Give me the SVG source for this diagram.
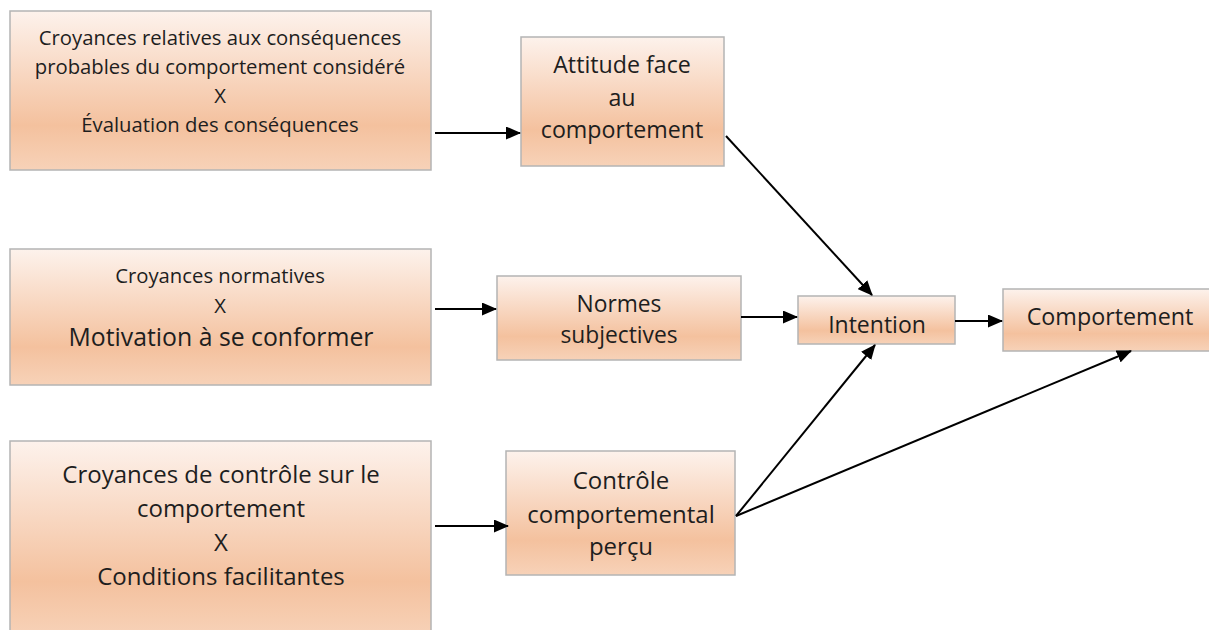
<svg xmlns="http://www.w3.org/2000/svg" width="1209" height="630" viewBox="0 0 1209 630">
<defs>
<linearGradient id="g" x1="0" y1="0" x2="0" y2="1">
<stop offset="0" stop-color="#fdf2ec"/>
<stop offset="0.72" stop-color="#f4c19e"/>
<stop offset="1" stop-color="#f7d2b8"/>
</linearGradient>
<marker id="ah" markerWidth="15" markerHeight="13" refX="14" refY="6.5" orient="auto" markerUnits="userSpaceOnUse" viewBox="0 0 15 13">
<path d="M0,0 L15,6.5 L0,13 z" fill="#000"/>
</marker>
<style>
.box{fill:url(#g);stroke:#b4b4b4;stroke-width:1.5}
text{font-family:"Open Sans","Noto Sans",sans-serif;fill:#1e1e1e;text-anchor:middle}
.edge{stroke:#000;stroke-width:2;fill:none;marker-end:url(#ah)}
</style>
</defs>
<rect width="1209" height="630" fill="#fff"/>
<g id="n1"><rect class="box" x="10" y="11" width="421" height="159"/>
<text font-size="20.3"><tspan x="220" y="45">Croyances relatives aux conséquences</tspan><tspan x="220" y="74">probables du comportement considéré</tspan><tspan x="220" y="103">X</tspan><tspan x="220" y="132">Évaluation des conséquences</tspan></text></g>
<g id="n2"><rect class="box" x="521" y="37" width="203" height="129"/>
<text font-size="23.2"><tspan x="622" y="73">Attitude face</tspan><tspan x="622" y="106">au</tspan><tspan x="622" y="138">comportement</tspan></text></g>
<g id="n3"><rect class="box" x="10" y="249" width="421" height="136"/>
<text font-size="20.3"><tspan x="220" y="283">Croyances normatives</tspan><tspan x="220" y="313">X</tspan></text>
<text font-size="24.8" x="221" y="346">Motivation à se conformer</text></g>
<g id="n4"><rect class="box" x="497" y="276" width="244" height="84"/>
<text font-size="22.8"><tspan x="619" y="312">Normes</tspan><tspan x="619" y="343">subjectives</tspan></text></g>
<g id="n5"><rect class="box" x="10" y="441" width="421" height="195"/>
<text font-size="24"><tspan x="221" y="483">Croyances de contrôle sur le</tspan><tspan x="221" y="517">comportement</tspan><tspan x="221" y="551">X</tspan><tspan x="221" y="585">Conditions facilitantes</tspan></text></g>
<g id="n6"><rect class="box" x="506" y="451" width="229" height="124"/>
<text font-size="24"><tspan x="621" y="489">Contrôle</tspan><tspan x="621" y="523">comportemental</tspan><tspan x="621" y="555">perçu</tspan></text></g>
<g id="n7"><rect class="box" x="798" y="296" width="157" height="48"/>
<text font-size="23" x="877" y="333">Intention</text></g>
<g id="n8"><rect class="box" x="1003" y="289" width="210" height="62"/>
<text font-size="23.3" x="1110" y="325">Comportement</text></g>
<g id="edges">
<line class="edge" x1="435" y1="133" x2="520" y2="133"/>
<line class="edge" x1="435" y1="309" x2="496" y2="309"/>
<line class="edge" x1="435" y1="526" x2="508" y2="526"/>
<line class="edge" x1="741" y1="317" x2="797" y2="317"/>
<line class="edge" x1="955" y1="321" x2="1002" y2="321"/>
<line class="edge" x1="726" y1="136" x2="872" y2="295"/>
<line class="edge" x1="736" y1="516" x2="875" y2="345"/>
<line class="edge" x1="736" y1="516" x2="1131" y2="351"/>
</g>
</svg>
